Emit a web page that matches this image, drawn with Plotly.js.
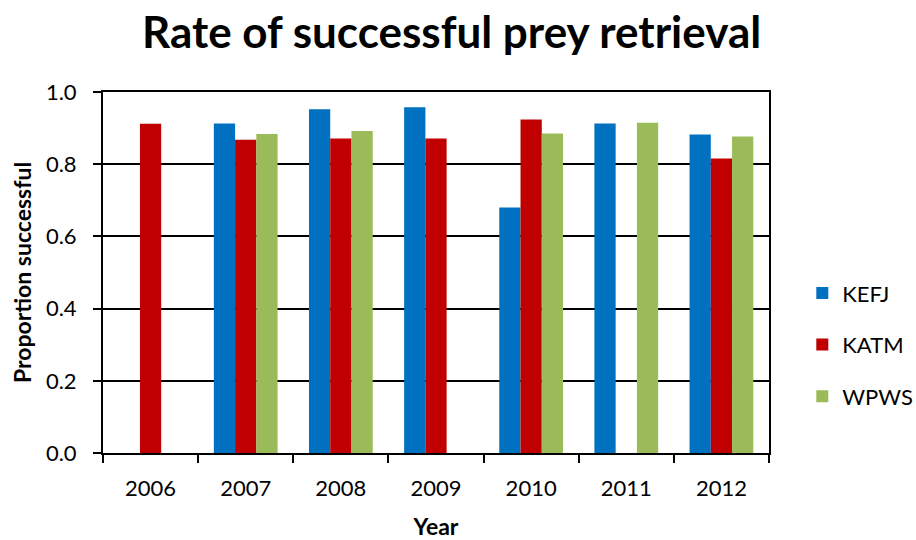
<!DOCTYPE html>
<html>
<head>
<meta charset="utf-8">
<script src="https://cdn.plot.ly/plotly-3.0.1.min.js"></script>
<style>html,body{margin:0;padding:0;background:#fff;}#chart{width:916px;height:540px;}</style>
</head>
<body>
<div id="chart"></div>
<script>
const years = ["2006","2007","2008","2009","2010","2011","2012"];
const kefj = [null, 0.913, 0.952, 0.958, 0.680, 0.913, 0.882];
const katm = [0.912, 0.868, 0.871, 0.871, 0.924, null, 0.816];
const wpws = [null, 0.884, 0.892, null, 0.885, 0.915, 0.877];
const seriesNames = ["KEFJ", "KATM", "WPWS"];
const seriesColors = ["#0070C0", "#C00000", "#9BBB59"];

const FONT = "Lato, 'Open Sans', sans-serif";
const data = [kefj, katm, wpws].map((vals, i) => ({
  type: "bar",
  name: seriesNames[i],
  legendgroup: seriesNames[i],
  x: years,
  y: vals,
  marker: {color: seriesColors[i]},
  hoverinfo: "x+y+name"
}));

const layout = {
  width: 916, height: 540,
  margin: {l: 103, r: 147, t: 92, b: 87, autoexpand: false},
  paper_bgcolor: "#fff", plot_bgcolor: "#fff",
  font: {family: FONT, color: "#000"},
  title: {text: "<b>Rate of successful prey retrieval</b>", font: {size: 44, family: FONT, color: "#000"}, x: 0.493, xanchor: "center", y: 0.94, yanchor: "middle"},
  barmode: "group",
  bargap: 0.33,
  bargroupgap: 0,
  xaxis: {
    type: "category",
    tickson: "boundaries",
    ticks: "outside", ticklen: 8, tickwidth: 2, tickcolor: "#000",
    showline: true, linecolor: "#000", linewidth: 2, mirror: true,
    showgrid: false,
    tickfont: {size: 22, family: FONT},
    ticklabelstandoff: 15,
    title: {text: "<b>Year</b>", font: {size: 23, family: FONT}, standoff: 18}
  },
  yaxis: {
    range: [0, 1], dtick: 0.2, tickformat: ".1f",
    ticks: "outside", ticklen: 8, tickwidth: 2, tickcolor: "#000",
    showline: true, linecolor: "#000", linewidth: 2, mirror: true,
    showgrid: true, gridcolor: "#000", gridwidth: 2,
    zeroline: false,
    tickfont: {size: 22, family: FONT},
    ticklabelstandoff: 12,
    title: {text: "<b>Proportion successful</b>", font: {size: 23, family: FONT}, standoff: 8}
  },
  legend: {
    x: 1.05, xanchor: "left", y: 0.30, yanchor: "middle",
    font: {size: 22, family: FONT},
    traceorder: "grouped", tracegroupgap: 20,
    bgcolor: "rgba(0,0,0,0)"
  },
  showlegend: true
};

Plotly.newPlot("chart", data, layout, {displayModeBar: false, staticPlot: true});
</script>
</body>
</html>
